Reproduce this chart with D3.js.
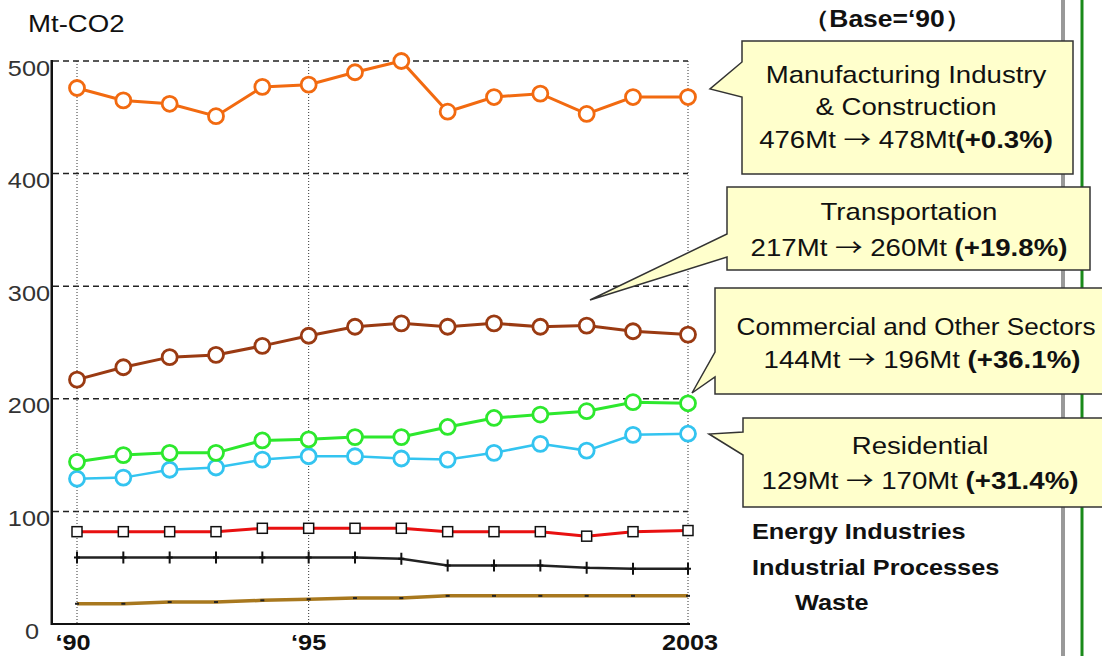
<!DOCTYPE html>
<html><head><meta charset="utf-8">
<script src="https://cdn.jsdelivr.net/npm/d3@7"></script>
<style>html,body{margin:0;padding:0;background:#fff;}svg{display:block;}</style>
</head><body>
<script>
const years = [1990,1991,1992,1993,1994,1995,1996,1997,1998,1999,2000,2001,2002,2003];
const manufacturing = [476,465,462,451,477,479,490,500,455,468,471,453,468,468];
const transportation = [217,228,237,239,247,256,264,267,264,267,264,265,260,257];
const commercial = [144,150,152,152,163,164,166,166,175,183,186,189,197,196];
const residential = [129,130,137,139,146,149,149,147,146,152,160,154,168,169];
const energy = [82,82,82,82,85,85,85,85,82,82,82,78,82,83];
const industrial = [59,59,59,59,59,59,59,58,52,52,52,50,49,49];
const waste = [18,18,19.5,19.5,21,22,23,23,25,25,25,25,25,25];
const yTicks = [0,100,200,300,400,500];
const xTicks = [1990,1995,2003];
const xTickLabels = ["‘90","‘95","2003"];

const W=1102,H=656, SX=1.15;
const FONT="'Liberation Sans', Arial, sans-serif";
const svg=d3.select("body").append("svg").attr("width",W).attr("height",H)
  .style("font-family",FONT);
svg.append("rect").attr("width",W).attr("height",H).attr("fill","#fff");

const x=d3.scaleLinear().domain([1990,2002,2003]).range([77,633,688]);
const y=d3.scaleLinear().domain([0,500]).range([624,61]);

// right vertical lines
svg.append("rect").attr("x",1061).attr("y",0).attr("width",4).attr("height",H).attr("fill","#999");
svg.append("rect").attr("x",1080.5).attr("y",0).attr("width",3).attr("height",H).attr("fill","#1a8a1a");

// grid
const g=svg.append("g");
g.selectAll(".hg").data(yTicks.filter(d=>d>0)).join("line").attr("class","hg")
  .attr("x1",53).attr("x2",x(2003)).attr("y1",d=>y(d)).attr("y2",d=>y(d))
  .attr("stroke","#222").attr("stroke-width",1.5).attr("stroke-dasharray","6,4");
g.selectAll(".vg").data(xTicks).join("line").attr("class","vg")
  .attr("x1",d=>x(d)).attr("x2",d=>x(d)).attr("y1",y(500)).attr("y2",y(0))
  .attr("stroke","#333").attr("stroke-width",1).attr("stroke-dasharray","1,2");

// axes
const ya=svg.append("g").attr("transform","translate(52,0)")
  .call(d3.axisLeft(y).tickValues(yTicks).tickSize(0).tickPadding(2));
ya.select(".domain").remove();
ya.selectAll("text").attr("font-size",22).attr("fill","#333").attr("font-family",FONT)
  .attr("dy","0.64em").attr("transform",`scale(${SX},1)`)
  .attr("x",d=>(d===0?-13:-2)/SX);
const xa=svg.append("g").attr("transform",`translate(0,${y(0)})`)
  .call(d3.axisBottom(x).tickValues(xTicks).tickSize(0).tickFormat((d,i)=>xTickLabels[i]));
xa.select(".domain").attr("d",`M51,0H690`).attr("stroke","#111").attr("stroke-width",2);
xa.selectAll("text").attr("font-size",22).attr("font-weight","bold").attr("fill","#111").attr("font-family",FONT)
  .attr("dy","0").attr("y",26).attr("x",0).attr("transform",`scale(${SX},1)`);
xa.selectAll(".tick").attr("transform",d=>`translate(${x(d)-(d===1990?4:0)+(d===2003?2:0)},0)`);
// y axis line (solid bar)
svg.append("rect").attr("x",50.5).attr("y",y(500)-1).attr("width",2.5).attr("height",y(0)-y(500)+2)
  .attr("fill","#111");

// series
const line=d3.line().x((d,i)=>x(years[i])).y(d=>y(d));
function circles(data,col,lw){
  svg.append("path").datum(data).attr("d",line).attr("fill","none").attr("stroke",col).attr("stroke-width",lw);
  svg.append("g").selectAll("circle").data(data).join("circle")
    .attr("cx",(d,i)=>x(years[i])).attr("cy",d=>y(d)).attr("r",7.5)
    .attr("fill","#fff").attr("stroke",col).attr("stroke-width",2.8);
}
// waste
svg.append("path").datum(waste).attr("d",line).attr("fill","none").attr("stroke","#a8781e").attr("stroke-width",3.5);
svg.append("g").selectAll("rect").data(waste).join("rect")
  .attr("x",(d,i)=>x(years[i])-2).attr("y",d=>y(d)-1).attr("width",4).attr("height",2).attr("fill","#222");
// industrial
svg.append("path").datum(industrial).attr("d",line).attr("fill","none").attr("stroke","#222").attr("stroke-width",2.5);
svg.append("g").selectAll("path").data(industrial).join("path")
  .attr("d",(d,i)=>`M${x(years[i])},${y(d)-6}v12M${x(years[i])-3},${y(d)}h6`)
  .attr("stroke","#111").attr("stroke-width",2);
// energy
svg.append("path").datum(energy).attr("d",line).attr("fill","none").attr("stroke","#e81010").attr("stroke-width",3);
svg.append("g").selectAll("rect").data(energy).join("rect")
  .attr("x",(d,i)=>x(years[i])-5).attr("y",d=>y(d)-5).attr("width",10).attr("height",10)
  .attr("fill","#fff").attr("stroke","#111").attr("stroke-width",1.5);
circles(residential,"#33c4f0",2.5);
circles(commercial,"#2de82d",3);
circles(transportation,"#9a3a12",3);
circles(manufacturing,"#f26a10",3);

// callout shapes
function callout(x0,y0,x1,y1,b1,tip,b2){
  const p=`M${x0},${y0}H${x1}V${y1}H${x0}V${b2}L${tip[0]},${tip[1]}L${x0},${b1}Z`;
  svg.append("path").attr("d",p).attr("fill","#ffffcc").attr("stroke","#333").attr("stroke-width",1.5);
}
callout(742,41,1073,174,62,[710,89],97);
callout(727,187,1090,270,234,[590,300],257);
callout(715,288,1120,394,352,[692,393],377);
callout(743,418,1120,507,432,[709,434],455);

// text helper: parts = [text, bold, family]
function txt(cx,by,parts,size,anchor,weight,sx){
  const t=svg.append("text").attr("transform",`translate(${cx},${by}) scale(${sx||SX},1)`)
    .attr("text-anchor",anchor||"middle").attr("font-size",size).attr("fill","#111");
  parts.forEach(p=>{
    const s=t.append("tspan").text(p[0]).attr("font-weight",(p[1]||weight)?"bold":"normal");
    if(p[2]) s.attr("font-family",p[2]);
  });
  return t;
}
const ARW="'Noto Sans CJK JP', sans-serif";
txt(28,32,[["Mt-CO2"]],24,"start");
txt(887,27,[["（Base=‘90）",1]],23);
txt(906,83,[["Manufacturing Industry"]],24);
txt(906,115,[["& Construction"]],24);
txt(906,148,[["476Mt "],["→",0,ARW],[" 478Mt"],["(+0.3%)",1]],24);
txt(909,220,[["Transportation"]],24);
txt(909,256,[["217Mt "],["→",0,ARW],[" 260Mt "],["(+19.8%)",1]],24);
txt(916,335,[["Commercial and Other Sectors"]],24,"middle",0,1.09);
txt(922,368,[["144Mt "],["→",0,ARW],[" 196Mt "],["(+36.1%)",1]],24);
txt(920,454,[["Residential"]],24);
txt(920,489,[["129Mt "],["→",0,ARW],[" 170Mt "],["(+31.4%)",1]],24);
txt(752,539,[["Energy Industries"]],22,"start",1);
txt(752,575,[["Industrial Processes"]],22,"start",1);
txt(795,610,[["Waste"]],22,"start",1);
</script>
</body></html>
